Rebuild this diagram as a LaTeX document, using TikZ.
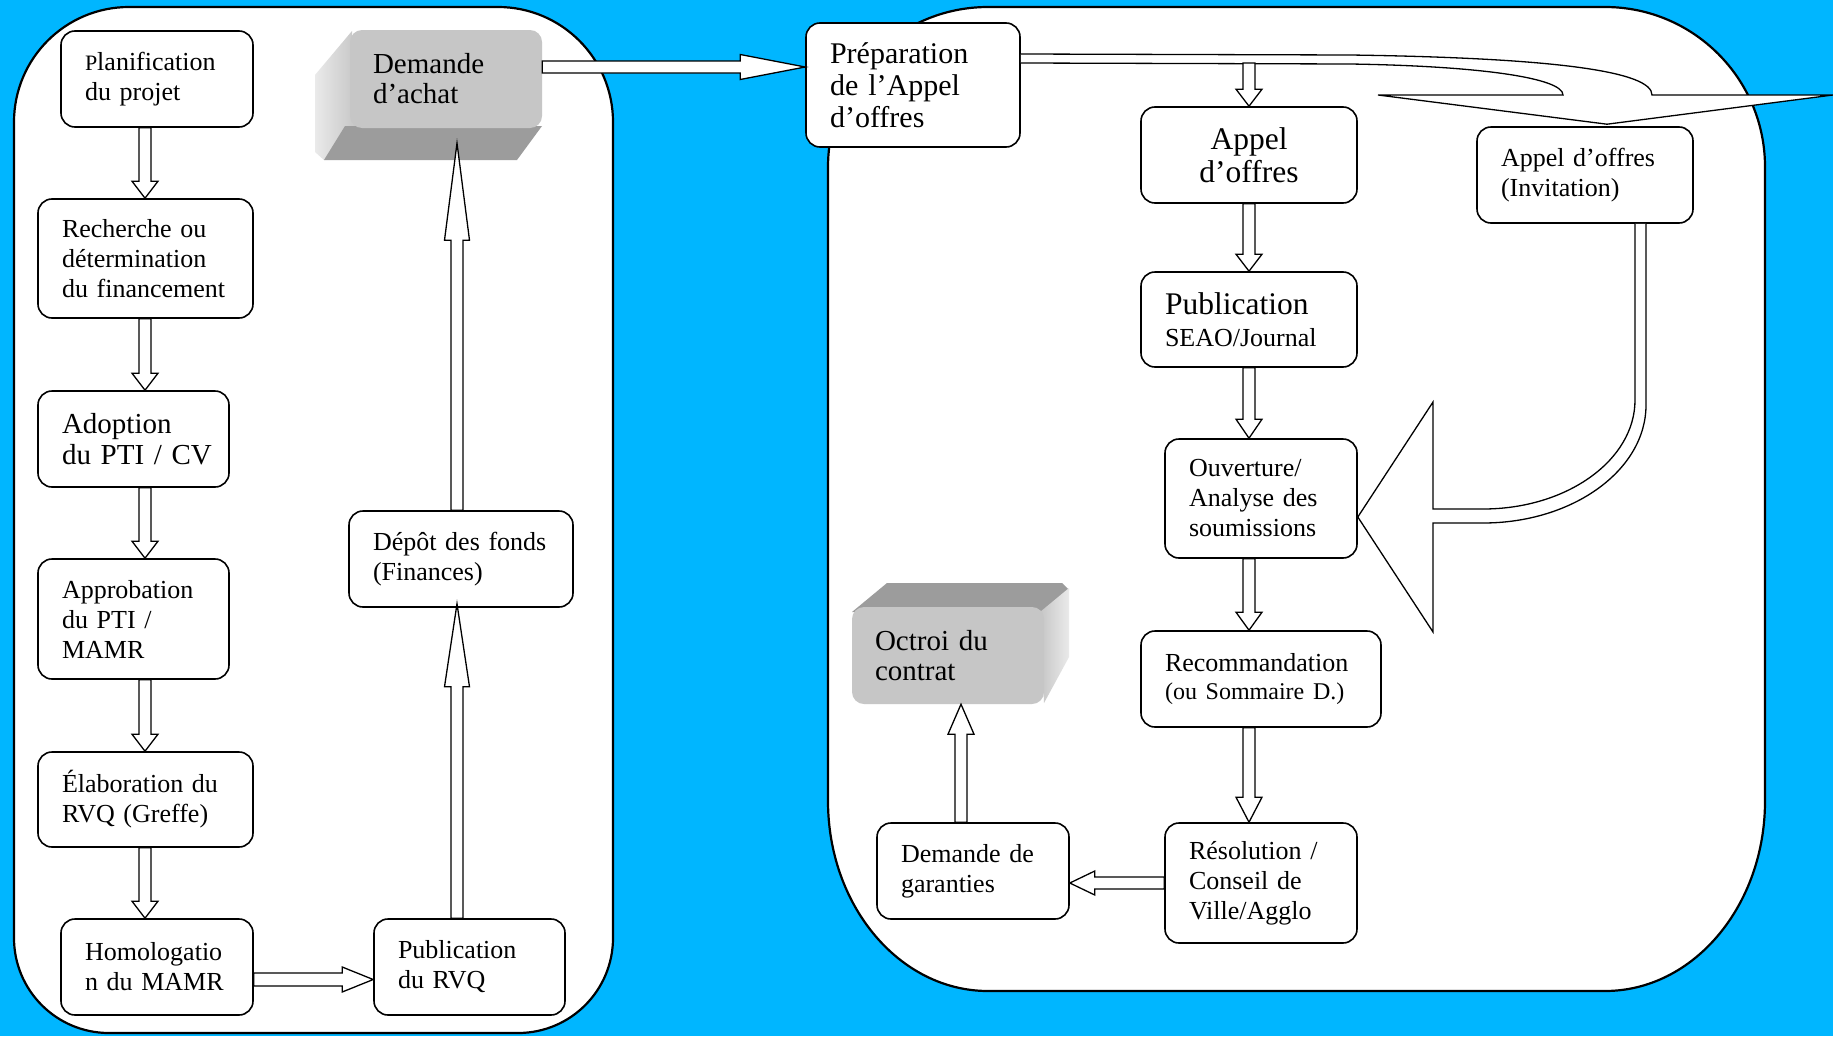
\documentclass[tikz,border=0pt]{standalone}
\usepackage{fontspec}
\setmainfont{Liberation Serif}
\usetikzlibrary{calc}

\definecolor{skyback}{RGB}{0,182,255}
\definecolor{facefront}{RGB}{198,198,198}
\definecolor{facedark}{RGB}{156,156,156}
\definecolor{facelight}{RGB}{234,234,234}

\hyphenpenalty=10000
\exhyphenpenalty=10000

% hollow block arrow: #1 shaft half-width, #2 head half-width, #3 head length, #4 tail, #5 tip
\newcommand\blockarrow[5]{%
  \draw[arrowline] let \p1=(#4), \p2=(#5),
    \n1={veclen(\x2-\x1,\y2-\y1)}, \n2={(\x2-\x1)/\n1}, \n3={(\y2-\y1)/\n1}, \n4={\n1-#3}
  in ({\x1-#1*\n3},{\y1+#1*\n2})
  -- ({\x1+\n4*\n2-#1*\n3},{\y1+\n4*\n3+#1*\n2})
  -- ({\x1+\n4*\n2-#2*\n3},{\y1+\n4*\n3+#2*\n2})
  -- (\p2)
  -- ({\x1+\n4*\n2+#2*\n3},{\y1+\n4*\n3-#2*\n2})
  -- ({\x1+\n4*\n2+#1*\n3},{\y1+\n4*\n3-#1*\n2})
  -- ({\x1+#1*\n3},{\y1-#1*\n2}) -- cycle;}

\begin{document}
\begin{tikzpicture}[x=1pt,y=-1pt,
  panel/.style={fill=white, draw=black, line width=2.2pt},
  box/.style={draw=black, fill=white, line width=1.6pt, rounded corners=14pt,
    inner xsep=24pt, inner ysep=0pt, align=left,
    font=\fontsize{26}{30}\selectfont},
  gbox/.style={fill=facefront, rounded corners=12pt, inner xsep=23pt, inner ysep=0pt,
    align=left, font=\fontsize{29}{30}\selectfont},
  arrowline/.style={draw=black, fill=white, line width=1.3pt, line join=miter}]

\fill[skyback] (0,0) rectangle (1833,1036);
\useasboundingbox (0,0) rectangle (1833,1036);

% left panel
\draw[panel] (14,122) .. controls (14,58.5) and (65.5,7) .. (129,7)
  -- (498,7) .. controls (561.5,7) and (613,58.5) .. (613,122)
  -- (613,938) .. controls (613,990.5) and (570.5,1033) .. (518,1033)
  -- (109,1033) .. controls (56.5,1033) and (14,990.5) .. (14,938) -- cycle;

% right panel
\draw[panel] (828,167) .. controls (828,78.6) and (899.6,7) .. (988,7)
  -- (1605,7) .. controls (1693.4,7) and (1765,78.6) .. (1765,167)
  -- (1765,801) .. controls (1765,905.9) and (1693.4,991) .. (1605,991)
  -- (988,991) .. controls (899.6,991) and (828,905.9) .. (828,801) -- cycle;

% left column
\node[box, text width=144pt, minimum height=96pt] (plan) at (157,79)
  {{\fontsize{22}{30}\selectfont P}lanification\\du projet};
\node[box, text width=167pt, minimum height=119pt] (rech) at (145.5,258.5)
  {Recherche~ou\\détermination\\du~financement};
\node[box, text width=143pt, minimum height=96pt, font=\fontsize{29}{31}\selectfont] (adop) at (133.5,439)
  {Adoption\\du~PTI~/~CV};
\node[box, text width=143pt, minimum height=120pt] (appr) at (133.5,619)
  {Approbation\\du~PTI~/\\MAMR};
\node[box, text width=167pt, minimum height=95pt] (elab) at (145.5,799.5)
  {Élaboration~du\\RVQ~(Greffe)};
\node[box, text width=144pt, minimum height=96pt] (homo) at (157,967)
  {Homologatio\\n~du~MAMR};
\node[box, text width=143pt, minimum height=96pt] (pubr) at (469.5,967)
  {Publication\\du~RVQ};
\node[box, text width=176pt, minimum height=96pt] (depot) at (461,559)
  {Dépôt~des~fonds\\(Finances)};

% purchase request block with its bevelled sides
\shade[left color=facelight, right color=facefront] (352,31) -- (315,75) -- (315,152)
  -- (324,160) -- (356,126) -- cycle;
\fill[facedark] (345,126) -- (542,126) -- (517,160) -- (324,160) -- cycle;
\node[gbox, text width=146pt, minimum height=98pt] (achat) at (446,79)
  {Demande\\d’achat};

% contract award block with its bevelled sides
\fill[facedark] (852,612) -- (887,583) -- (1062,583) -- (1069,590) -- (1044,612) -- cycle;
\shade[left color=facefront, right color=facelight] (1040,612) -- (1069,588) -- (1069,657)
  -- (1044,703) -- cycle;
\node[gbox, text width=146pt, minimum height=97pt] (octroi) at (948,655.5)
  {Octroi~du\\contrat};

% right column
\node[box, text width=166pt, minimum height=124pt, font=\fontsize{30}{32}\selectfont] (prep) at (913,85)
  {Préparation\\de~l’Appel\\d’offres};
\node[box, align=center, text width=168pt, minimum height=96pt, font=\fontsize{31.5}{33}\selectfont] (appel) at (1249,155)
  {Appel\\d’offres};
\node[box, text width=168pt, minimum height=95pt, font=\fontsize{26}{32}\selectfont] (pubs) at (1249,319.5)
  {{\fontsize{31.5}{32}\selectfont Publication}\\SEAO/Journal};
\node[box, text width=144pt, minimum height=119pt] (ouv) at (1261,498.5)
  {Ouverture/\\Analyse~des\\soumissions};
\node[box, text width=192pt, minimum height=96pt, font=\fontsize{26}{28}\selectfont] (reco) at (1261,679)
  {Recommandation\\{\fontsize{24}{28}\selectfont(ou~Sommaire~D.)}};
\node[box, text width=144pt, minimum height=120pt] (reso) at (1261,883)
  {Résolution~/\\Conseil~de\\Ville/Agglo};
\node[box, text width=144pt, minimum height=96pt] (gar) at (973,871)
  {Demande~de\\garanties};
\node[box, text width=168pt, minimum height=96pt] (invit) at (1585,175)
  {Appel~d’offres\\(Invitation)};

% arrow axes
\coordinate (colL) at (145,0);
\coordinate (colM) at (457,0);
\coordinate (colR) at (1249,0);
\coordinate (colG) at (961,0);
\coordinate (branch) at ($(prep.east -| colR)+(0,-22)$);

% left column flow
\blockarrow{6}{13}{17}{plan.south -| colL}{rech.north -| colL}
\blockarrow{6}{13}{17}{rech.south -| colL}{adop.north -| colL}
\blockarrow{6}{13}{17}{adop.south -| colL}{appr.north -| colL}
\blockarrow{6}{13}{17}{appr.south -| colL}{elab.north -| colL}
\blockarrow{6}{13}{17}{elab.south -| colL}{homo.north -| colL}
\blockarrow{6.5}{12.5}{31}{$(homo.east)+(0,12.5)$}{$(pubr.west)+(0,12.5)$}
\blockarrow{6}{12.5}{83}{pubr.north -| colM}{$(depot.south -| colM)+(0,-4)$}
\blockarrow{6}{12.5}{97}{depot.north -| colM}{$(achat.south -| colM)+(0,15)$}
\blockarrow{6}{12.5}{65}{$(achat.east)+(0,-12)$}{$(prep.west)+(0,-18)$}

% wide curved arrow towards the invitation
\draw[arrowline] ($(prep.east)+(0,-31)$) -- (1350,55)
  .. controls (1560,58) and (1652,72) .. (1652,95) -- (1833,95)
  -- ($(invit.north)+(22,-2)$) -- (1378,95) -- (1563,95)
  .. controls (1563,78) and (1480,66) .. (1350,64) -- ($(prep.east)+(0,-22)$);

% right column flow
\blockarrow{6}{13}{17}{branch}{appel.north -| colR}
\blockarrow{6}{13}{17}{appel.south -| colR}{pubs.north -| colR}
\blockarrow{6}{13}{19}{pubs.south -| colR}{ouv.north -| colR}
\blockarrow{6}{13}{18}{ouv.south -| colR}{reco.north -| colR}
\blockarrow{6}{13}{25}{reco.south -| colR}{reso.north -| colR}
\blockarrow{6}{12}{25}{reso.west}{$(gar.east)+(0,12)$}
\blockarrow{6}{13}{30}{gar.north -| colG}{octroi.south -| colG}

% bent arrow from the invitation back to the opening of bids
\draw[arrowline] ($(invit.south)+(50,0)$) -- (1635,400)
  .. controls (1635,460) and (1567,509) .. (1483,509) -- (1433,509) -- (1433,402)
  -- ($(ouv.east)+(0,18.5)$) -- (1433,632) -- (1433,523) -- (1483,523)
  .. controls (1573,523) and (1646,470) .. (1646,405) -- ($(invit.south)+(61,0)$);

\end{tikzpicture}
\end{document}
